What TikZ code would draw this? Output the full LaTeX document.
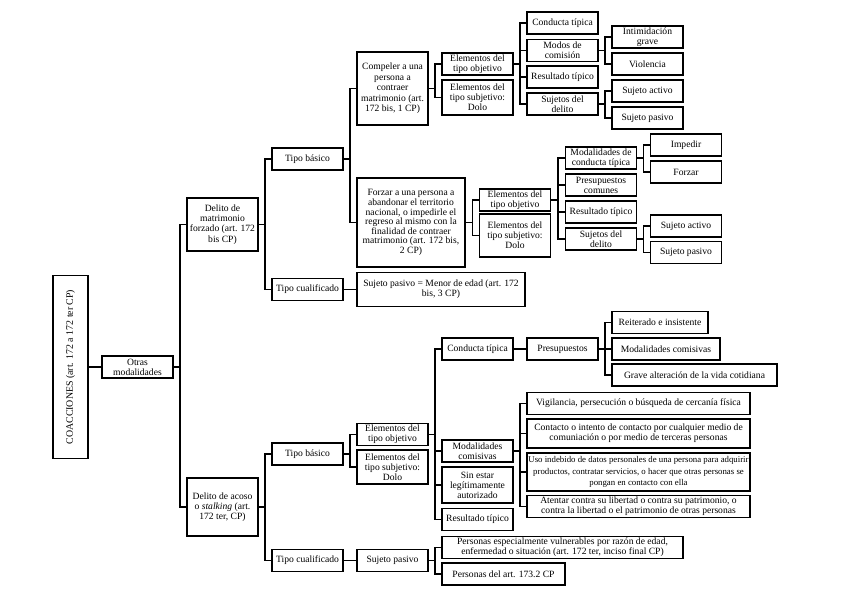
\documentclass[tikz,border=0pt]{standalone}
\usepackage{fontspec}
\setmainfont{Liberation Serif}
\usetikzlibrary{calc}

\begin{document}
\begin{tikzpicture}[
    x=0.75pt, y=-0.75pt,
    box/.style={draw, line width=0.8pt, align=center, inner sep=1pt,
                minimum width=53.25pt, minimum height=16.5pt,
                font=\fontsize{7.2}{7.6}\selectfont},
    wide/.style={box, minimum width=167.25pt},
    rootbox/.style={draw, line width=0.8pt, inner sep=1pt, rotate=90,
                    minimum width=137.25pt, minimum height=26.25pt,
                    font=\fontsize{7.4}{7.6}\selectfont},
    link/.style={line width=0.8pt},
    elbow/.style={to path={-| ($(\tikztostart)!0.5!(\tikztotarget)$) |- (\tikztotarget)}}
]
\useasboundingbox (0,0) rectangle (848,599);

% Root
\node[rootbox] (coac) at (70.5,367) {COACCIONES (art. 172 a 172 ter CP)};
\node[box] (otras) at (137.5,367) {Otras\\modalidades};

% Delito de matrimonio forzado
\node[box, minimum height=39.75pt] (matr) at (222.5,224.5) {Delito de\\matrimonio\\forzado (art. 172\\bis CP)};
\node[box] (basA) at (307.5,159) {Tipo básico};
\node[box] (cualA) at (307.5,289.5) {Tipo cualificado};

% Compeler
\node[box, minimum height=54.75pt, font=\fontsize{7.2}{7.9}\selectfont] (comp) at (392.5,88.5) {Compeler a una\\persona a\\contraer\\matrimonio (art.\\172 bis, 1 CP)};
\node[box] (objA) at (477.5,64) {Elementos del\\tipo objetivo};
\node[box, minimum height=26.25pt] (subA) at (477.5,97.5) {Elementos del\\tipo subjetivo:\\Dolo};
\node[box] (condA) at (562.5,23) {Conducta típica};
\node[box] (modos) at (562.5,50.5) {Modos de\\comisión};
\node[box] (resA) at (562.5,77) {Resultado típico};
\node[box] (sujA) at (562.5,104) {Sujetos del\\delito};
\node[box] (intim) at (647.5,37) {Intimidación\\grave};
\node[box] (viol) at (647.5,64) {Violencia};
\node[box] (actA) at (647.5,91) {Sujeto activo};
\node[box] (pasA) at (647.5,118) {Sujeto pasivo};

% Forzar
\node[box, minimum width=81pt, minimum height=66.75pt, font=\fontsize{7.2}{7.2}\selectfont] (forz) at (411,222.5) {Forzar a una persona a\\abandonar el territorio\\nacional, o impedirle el\\regreso al mismo con la\\finalidad de contraer\\matrimonio (art. 172 bis,\\2 CP)};
\node[box] (objB) at (515,200) {Elementos del\\tipo objetivo};
\node[box, minimum height=32.25pt] (subB) at (515,235.5) {Elementos del\\tipo subjetivo:\\Dolo};
\node[box] (modB) at (601,158) {Modalidades de\\conducta típica};
\node[box] (presB) at (601,185) {Presupuestos\\comunes};
\node[box] (resB) at (601,212) {Resultado típico};
\node[box] (sujB) at (601,239) {Sujetos del\\delito};
\node[box] (imped) at (686,145) {Impedir};
\node[box] (forzar) at (686,172) {Forzar};
\node[box] (actB) at (686,226) {Sujeto activo};
\node[box] (pasB) at (686,252.5) {Sujeto pasivo};

% Tipo cualificado (matrimonio)
\node[box, minimum width=126pt, minimum height=25.5pt] (menor) at (441,289.5) {Sujeto pasivo = Menor de edad (art. 172\\bis, 3 CP)};

% Delito de acoso
\node[box, minimum height=43.5pt] (acoso) at (222.5,507) {Delito de acoso\\o \textit{stalking} (art.\\172 ter, CP)};
\node[box] (basC) at (307.5,454) {Tipo básico};
\node[box] (cualC) at (307.5,560.5) {Tipo cualificado};
\node[box] (objC) at (392.5,434.5) {Elementos del\\tipo objetivo};
\node[box, minimum height=25.5pt] (subC) at (392.5,467) {Elementos del\\tipo subjetivo:\\Dolo};
\node[box] (condC) at (477.5,349) {Conducta típica};
\node[box] (modC) at (477.5,451) {Modalidades\\comisivas};
\node[box, minimum height=27pt] (sinest) at (477.5,485) {Sin estar\\legítimamente\\autorizado};
\node[box] (resC) at (477.5,519.5) {Resultado típico};
\node[box] (presC) at (562.5,349) {Presupuestos};
\node[box, minimum width=72pt] (reit) at (660,322.5) {Reiterado e insistente};
\node[box, minimum width=81pt] (modcom) at (666,349) {Modalidades comisivas};
\node[box, minimum width=123.75pt] (grave) at (694.5,375) {Grave alteración de la vida cotidiana};
\node[wide] (vigil) at (638.5,403.5) {Vigilancia, persecución o búsqueda de cercanía física};
\node[wide, minimum height=21.75pt] (contac) at (638.5,433.5) {Contacto o intento de contacto por cualquier medio de\\comuniación o por medio de terceras personas};
\node[wide, minimum height=28.5pt, font=\fontsize{6.6}{8.8}\selectfont] (uso) at (638.5,472) {Uso indebido de datos personales de una persona para adquirir\\productos, contratar servicios, o hacer que otras personas se\\pongan en contacto con ella};
\node[wide, minimum height=16.5pt] (atent) at (638.5,506.5) {Atentar contra su libertad o contra su patrimonio, o\\contra la libertad o el patrimonio de otras personas};
\node[box] (pasC) at (392.5,560.5) {Sujeto pasivo};
\node[box, minimum width=180.75pt, minimum height=15.75pt] (vulner) at (562.5,547.5) {Personas especialmente vulnerables por razón de edad,\\enfermedad o situación (art. 172 ter, inciso final CP)};
\node[box, minimum width=92.25pt] (art173) at (503.5,574) {Personas del art. 173.2 CP};

% Connectors: upper branch
\draw[link] (coac.south) -- (otras.west);
\draw[link] (otras.east) to[elbow] (matr.west);
\draw[link] (otras.east) to[elbow] (acoso.west);
\draw[link] (matr.east) to[elbow] (basA.west);
\draw[link] (matr.east) to[elbow] (cualA.west);
\draw[link] (basA.east) to[elbow] (comp.west);
\draw[link] (basA.east) to[elbow] (forz.west);
\draw[link] (cualA.east) -- (menor.west);
\draw[link] (comp.east) to[elbow] (objA.west);
\draw[link] (comp.east) to[elbow] (subA.west);
\draw[link] (objA.east) to[elbow] (condA.west);
\draw[link] (objA.east) to[elbow] (modos.west);
\draw[link] (objA.east) to[elbow] (resA.west);
\draw[link] (objA.east) to[elbow] (sujA.west);
\draw[link] (modos.east) to[elbow] (intim.west);
\draw[link] (modos.east) to[elbow] (viol.west);
\draw[link] (sujA.east) to[elbow] (actA.west);
\draw[link] (sujA.east) to[elbow] (pasA.west);
\draw[link] (forz.east) to[elbow] (objB.west);
\draw[link] (forz.east) to[elbow] (subB.west);
\draw[link] (objB.east) to[elbow] (modB.west);
\draw[link] (objB.east) to[elbow] (presB.west);
\draw[link] (objB.east) to[elbow] (resB.west);
\draw[link] (objB.east) to[elbow] (sujB.west);
\draw[link] (modB.east) to[elbow] (imped.west);
\draw[link] (modB.east) to[elbow] (forzar.west);
\draw[link] (sujB.east) to[elbow] (actB.west);
\draw[link] (sujB.east) to[elbow] (pasB.west);

% Connectors: lower branch
\draw[link] (acoso.east) to[elbow] (basC.west);
\draw[link] (acoso.east) to[elbow] (cualC.west);
\draw[link] (basC.east) to[elbow] (objC.west);
\draw[link] (basC.east) to[elbow] (subC.west);
\draw[link] (objC.east) to[elbow] (condC.west);
\draw[link] (objC.east) to[elbow] (modC.west);
\draw[link] (objC.east) to[elbow] (sinest.west);
\draw[link] (objC.east) to[elbow] (resC.west);
\draw[link] (condC.east) -- (presC.west);
\draw[link] (presC.east) to[elbow] (reit.west);
\draw[link] (presC.east) to[elbow] (modcom.west);
\draw[link] (presC.east) to[elbow] (grave.west);
\draw[link] (modC.east) to[elbow] (vigil.west);
\draw[link] (modC.east) to[elbow] (contac.west);
\draw[link] (modC.east) to[elbow] (uso.west);
\draw[link] (modC.east) to[elbow] (atent.west);
\draw[link] (cualC.east) -- (pasC.west);
\draw[link] (pasC.east) to[elbow] (vulner.west);
\draw[link] (pasC.east) to[elbow] (art173.west);

\end{tikzpicture}
\end{document}
